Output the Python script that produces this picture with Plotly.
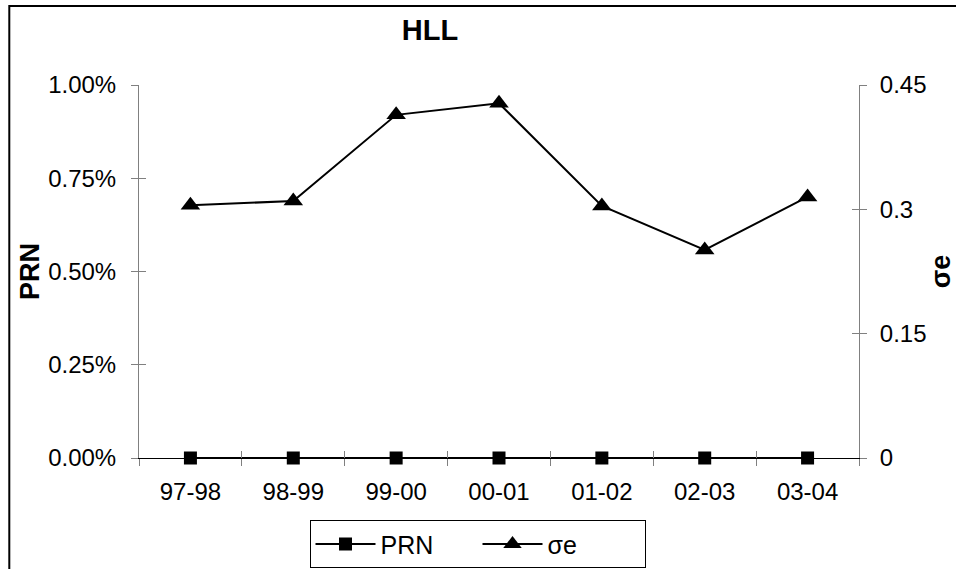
import plotly.graph_objects as go

categories = ["97-98", "98-99", "99-00", "00-01", "01-02", "02-03", "03-04"]
prn_values = [0, 0, 0, 0, 0, 0, 0]
sigma_values = [0.305, 0.310, 0.414, 0.428, 0.304, 0.251, 0.315]
left_ticks = [0, 0.0025, 0.005, 0.0075, 0.01]
right_ticks = [0, 0.15, 0.3, 0.45]
right_ticktext = ["0", "0.15", "0.3", "0.45"]

FONT = "Liberation Sans, Arial, sans-serif"
GRAY = "#808080"

fig = go.Figure()
fig.add_trace(go.Scatter(
    x=categories, y=prn_values, name="PRN", mode="lines+markers",
    line=dict(color="black", width=2),
    marker=dict(symbol="square", size=13, color="black"),
    yaxis="y", xaxis="x", cliponaxis=False,
))
fig.add_trace(go.Scatter(
    x=categories, y=sigma_values, name="σe", mode="lines+markers",
    line=dict(color="black", width=2),
    marker=dict(symbol="triangle-up", size=17, color="black"),
    yaxis="y2", xaxis="x", cliponaxis=False,
))
# invisible helper traces so that the overlay axes (inner halves of the crossing ticks) are drawn
fig.add_trace(go.Scatter(x=[0], y=[0], xaxis="x2", yaxis="y3", mode="markers",
                         marker=dict(opacity=0), showlegend=False, hoverinfo="skip"))
fig.add_trace(go.Scatter(x=[0], y=[0], xaxis="x2", yaxis="y4", mode="markers",
                         marker=dict(opacity=0), showlegend=False, hoverinfo="skip"))

n = len(categories)
boundaries = [i - 0.5 for i in range(n + 1)]

fig.update_layout(
    width=956, height=569,
    margin=dict(l=139, r=97, t=85, b=111, autoexpand=False),
    paper_bgcolor="white", plot_bgcolor="white",
    font=dict(family=FONT, color="black", size=24),
    title=dict(text="<b>HLL</b>", x=430 / 956, xref="container", xanchor="center",
               y=1 - 30 / 569, yref="container", yanchor="middle",
               font=dict(size=29, family=FONT, color="black")),
    showlegend=True,
    legend=dict(orientation="h", x=(477.5 - 139) / 720, xanchor="center",
                y=(457.7 - 520) / 372.7, yanchor="top",
                bordercolor="black", borderwidth=1, font=dict(size=25, family=FONT),
                bgcolor="white", itemwidth=60, entrywidth=92, entrywidthmode="pixels"),
    xaxis=dict(type="category", categoryorder="array", categoryarray=categories,
               range=[-0.5, n - 0.5], tickson="boundaries", ticks="outside", ticklen=7,
               tickcolor=GRAY, tickwidth=1, showline=True, linecolor="black", linewidth=1,
               showgrid=False, zeroline=False, tickfont=dict(size=24), ticklabelstandoff=12,
               automargin=False),
    xaxis2=dict(overlaying="x", anchor="y", range=[-0.5, n - 0.5], tickvals=boundaries,
                ticks="inside", ticklen=7, tickcolor=GRAY, showticklabels=False,
                showline=False, showgrid=False, zeroline=False, side="bottom",
                automargin=False),
    yaxis=dict(range=[0, 0.01], tickvals=left_ticks, tickformat=".2%", ticks="outside",
               ticklen=7, tickcolor=GRAY, showline=True, linecolor=GRAY, linewidth=1,
               showgrid=False, zeroline=False, tickfont=dict(size=24), ticklabelstandoff=10,
               title=dict(text="<b>PRN</b>", font=dict(size=27), standoff=0),
               automargin=False),
    yaxis2=dict(range=[0, 0.45], tickvals=right_ticks, ticktext=right_ticktext,
                overlaying="y", side="right", anchor="x", ticks="outside", ticklen=7,
                tickcolor=GRAY, showline=True, linecolor=GRAY, linewidth=1,
                showgrid=False, zeroline=False, tickfont=dict(size=24), ticklabelstandoff=8,
                title=dict(text="<b>σe</b>", font=dict(size=27), standoff=10),
                automargin=False),
    yaxis3=dict(range=[0, 0.01], tickvals=left_ticks, overlaying="y", side="left",
                anchor="x2", ticks="inside", ticklen=7, tickcolor=GRAY,
                showticklabels=False, showline=False, showgrid=False, zeroline=False,
                automargin=False),
    yaxis4=dict(range=[0, 0.45], tickvals=right_ticks, overlaying="y", side="right",
                anchor="x2", ticks="inside", ticklen=7, tickcolor=GRAY,
                showticklabels=False, showline=False, showgrid=False, zeroline=False,
                automargin=False),
)

# outer chart-area border (extends past right and bottom edge as in the reference)
fig.add_shape(type="rect", xref="paper", yref="paper",
              x0=(9.3 - 139) / 720, x1=1.3, y0=-0.6, y1=(457.7 - 6) / 372.7,
              line=dict(color="black", width=2), fillcolor="rgba(0,0,0,0)", layer="below")

fig.write_html("out.html")
